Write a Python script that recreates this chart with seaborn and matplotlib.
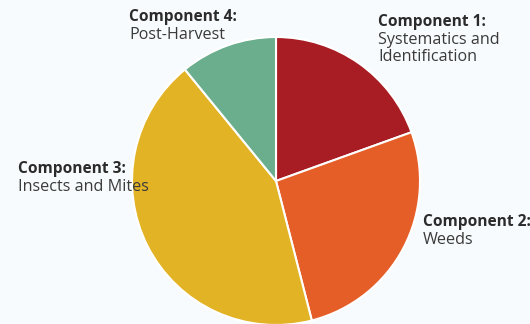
import matplotlib
matplotlib.use("Agg")
import matplotlib.pyplot as plt
import seaborn as sns

components = ["Component 1:", "Component 2:", "Component 3:", "Component 4:"]
descriptions = ["Systematics and\nIdentification", "Weeds", "Insects and Mites", "Post-Harvest"]
shares = [19.5, 26.5, 43.1, 10.9]
colors = ["#A81D23", "#E55D27", "#E3B326", "#6AAE8D"]

sns.set_theme(style="white")
plt.rcParams['font.family'] = ['Open Sans', 'DejaVu Sans']

W, H = 530, 324
fig = plt.figure(figsize=(W / 100, H / 100), dpi=100)
fig.patch.set_facecolor("#F8FBFD")
ax = fig.add_axes([0, 0, 1, 1])
ax.set_facecolor("#F8FBFD")

ax.pie(shares, colors=colors, startangle=90, counterclock=False,
       center=(276, H - 181), radius=144, frame=True,
       wedgeprops=dict(edgecolor="white", linewidth=1.5))
ax.set_xlim(0, W)
ax.set_ylim(0, H)
ax.set_aspect("equal")
ax.axis("off")

# label positions (pixel coords: left, cap-top of title)
label_pos = [(378, 16), (423, 216), (18, 163), (129, 11)]
for comp, desc, (x, y) in zip(components, descriptions, label_pos):
    ax.text(x, H - y + 2, comp, fontsize=11.2, fontweight="bold", color="#2B2B2B",
            ha="left", va="top")
    ax.text(x, H - y - 16, desc, fontsize=11.6, color="#3A3A3A",
            ha="left", va="top", linespacing=1.1)

fig.savefig("out.png", dpi=100)
